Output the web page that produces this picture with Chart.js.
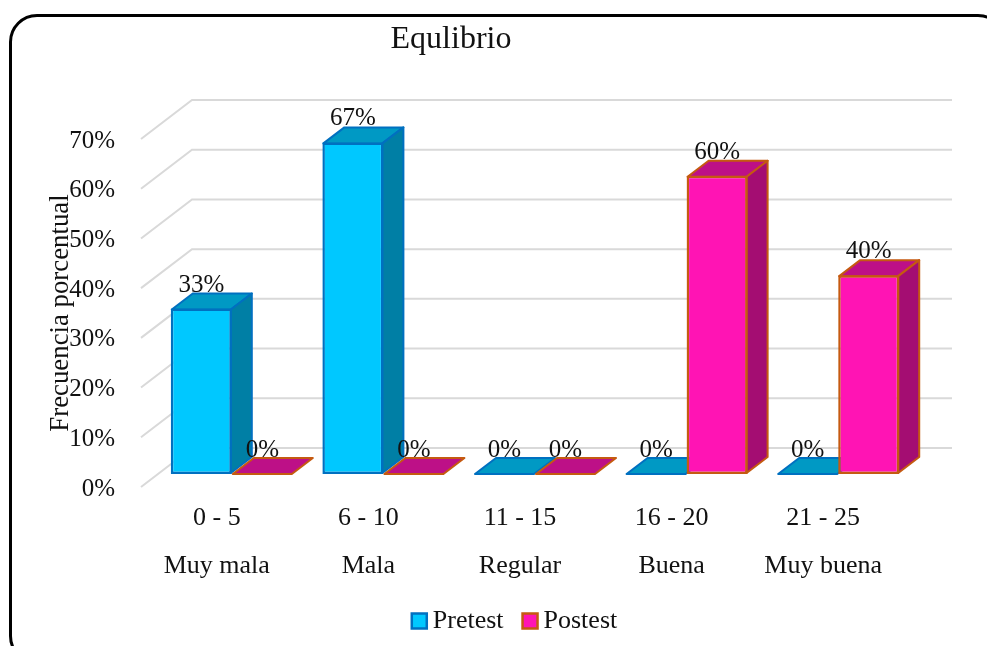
<!DOCTYPE html>
<html>
<head>
<meta charset="utf-8">
<style>
html,body{margin:0;padding:0;background:#fff;overflow:hidden;width:987px;height:646px}
#frame{position:absolute;left:9px;top:14px;width:997px;height:650px;border:3px solid #000;border-radius:28px;box-sizing:border-box}
#c{position:absolute;left:0;top:0}
</style>
<script src="https://cdn.jsdelivr.net/npm/chart.js@4/dist/chart.umd.min.js"></script>
</head>
<body>
<div id="frame"></div>
<canvas id="c" width="987" height="646"></canvas>
<script>
const rangos = ["0 - 5","6 - 10","11 - 15","16 - 20","21 - 25"];
const niveles = ["Muy mala","Mala","Regular","Buena","Muy buena"];
const pretest = [33.3,66.7,0,0,0];
const postest = [0,0,0,60,40];
const yTicks = [0,10,20,30,40,50,60,70];
const tituloGrafico = "Equlibrio";
const tituloEje = "Frecuencia porcentual";

const SERIF = "'Liberation Serif','Times New Roman',serif";
const TEXT = "#111";
const GRID = "#d9d9d9";
// 3D projection
const WALL = {dx:51, dy:-39};   // floor depth (front edge to back wall)
const SHIFT = {dx:15, dy:-13};  // bars stand inside the floor
const BAR = {dx:21, dy:-16};    // bar depth
const faces = {
  Pretest:{top:"#0099c4", side:"#007fa5"},
  Postest:{top:"#bd1087", side:"#a40d72"}
};

function drawBars(chart,i){
  const {ctx} = chart;
  const meta = chart.getDatasetMeta(i);
  const ds = chart.data.datasets[i];
  const f = faces[ds.label];
  ctx.save();
  ctx.translate(SHIFT.dx,SHIFT.dy);
  ctx.lineWidth = 2; ctx.lineJoin = "round";
  ctx.strokeStyle = ds.borderColor;
  meta.data.forEach(b=>{
    const w = b.width/2, l = b.x-w+1, r = b.x+w-1, t = b.y+(b.height>0?1:0), base = b.base-1;
    ctx.fillStyle = f.top;
    ctx.beginPath();
    ctx.moveTo(l,t);ctx.lineTo(l+BAR.dx,t+BAR.dy);ctx.lineTo(r+BAR.dx,t+BAR.dy);ctx.lineTo(r,t);ctx.closePath();
    ctx.fill();ctx.stroke();
    if(b.height>0){
      ctx.fillStyle = f.side;
      ctx.beginPath();
      ctx.moveTo(r,t);ctx.lineTo(r+BAR.dx,t+BAR.dy);ctx.lineTo(r+BAR.dx,base+BAR.dy);ctx.lineTo(r,base);ctx.closePath();
      ctx.fill();ctx.stroke();
    }
  });
  meta.controller.draw();   // front faces, by Chart.js
  ctx.restore();
}

const plugin3d = {
  id:"plugin3d",
  beforeDraw(chart){
    // place title and legend where the reference has them
    chart.titleBlock.left = 0; chart.titleBlock.right = 902;
    chart.legend.left = 49; chart.legend.right = 987; chart.legend.top = 582;
  },
  beforeDatasetsDraw(chart){
    const {ctx,scales:{y},chartArea:a} = chart;
    ctx.save();
    ctx.strokeStyle = GRID; ctx.lineWidth = 2;
    yTicks.forEach(v=>{
      const p = y.getPixelForValue(v);
      ctx.beginPath();
      ctx.moveTo(a.left,p);
      ctx.lineTo(a.left+WALL.dx,p+WALL.dy);
      ctx.lineTo(a.right+WALL.dx+2,p+WALL.dy);
      ctx.stroke();
    });
    ctx.restore();
    // series painted in legend order so that Postest sits in front of Pretest
    chart.data.datasets.forEach((ds,i)=>drawBars(chart,i));
  },
  beforeDatasetDraw(){ return false; },
  afterDatasetsDraw(chart){
    const {ctx} = chart;
    ctx.save();
    ctx.font = "25px "+SERIF; ctx.fillStyle = TEXT;
    ctx.textAlign = "center"; ctx.textBaseline = "middle";
    chart.data.datasets.forEach((ds,i)=>{
      chart.getDatasetMeta(i).data.forEach((b,j)=>{
        ctx.fillText(Math.round(ds.data[j])+"%", b.x+SHIFT.dx, b.y+SHIFT.dy-23.5);
      });
    });
    ctx.restore();
  }
};

new Chart(document.getElementById("c"),{
  type:"bar",
  data:{
    labels:rangos.map((r,i)=>[r,niveles[i]]),
    datasets:[
      {label:"Pretest",data:pretest,backgroundColor:"#00c8ff",borderColor:"#0070c0",borderWidth:2.5,borderSkipped:false},
      {label:"Postest",data:postest,backgroundColor:"#ff14b4",borderColor:"#c55a11",borderWidth:2.5,borderSkipped:false}
    ]
  },
  plugins:[plugin3d],
  options:{
    responsive:false,
    animation:false,
    devicePixelRatio:1,
    layout:{padding:{left:0,right:88,top:0,bottom:0}},
    datasets:{bar:{barPercentage:1,categoryPercentage:0.805}},
    plugins:{
      tooltip:{enabled:false},
      title:{display:true,text:tituloGrafico,color:TEXT,font:{family:SERIF,size:32,weight:"normal"},padding:{top:20,bottom:80.6}},
      legend:{position:"bottom",labels:{color:TEXT,font:{family:SERIF,size:26},usePointStyle:true,pointStyle:"rect",boxWidth:1,boxHeight:15,padding:26}}
    },
    scales:{
      x:{
        grid:{display:false},border:{display:false},
        afterFit(s){s.height=97;},
        ticks:{color:TEXT,font:{family:SERIF,size:26,lineHeight:"48px"},padding:-1,autoSkip:false,maxRotation:0}
      },
      y:{
        min:0,max:70,
        grid:{display:false},border:{display:false},
        afterFit(s){s.width=141;},
        afterBuildTicks(s){s.ticks=yTicks.map(v=>({value:v}));},
        title:{display:true,text:tituloEje,color:TEXT,font:{family:SERIF,size:26.8},padding:{top:45,bottom:0}},
        ticks:{color:TEXT,font:{family:SERIF,size:25},padding:18,labelOffset:2,callback:v=>v+"%"}
      }
    }
  }
});
</script>
</body>
</html>
